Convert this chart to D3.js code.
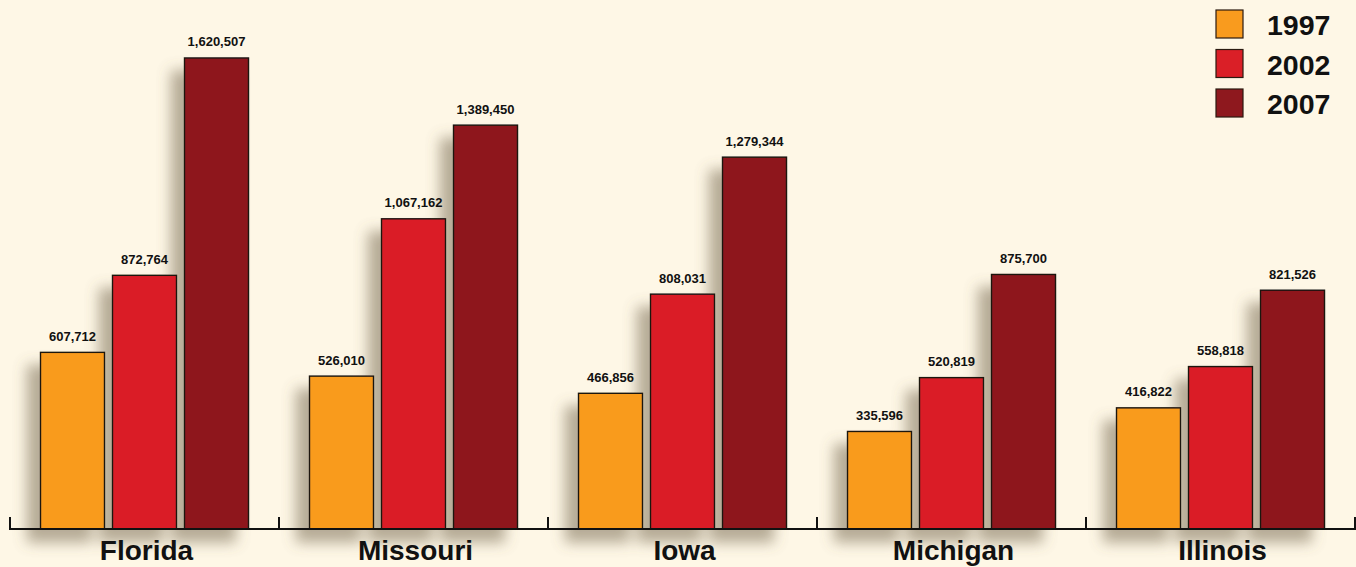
<!DOCTYPE html>
<html><head><meta charset="utf-8">
<script src="https://cdn.jsdelivr.net/npm/d3@7"></script>
<style>
html,body{margin:0;padding:0;background:#fef7e6;}
svg{display:block;font-family:"Liberation Sans",Arial,Helvetica,sans-serif;}
</style></head>
<body>
<svg id="chart" width="1356" height="567"></svg>
<script>
const categories = ["Florida","Missouri","Iowa","Michigan","Illinois"];
const seriesNames = ["1997","2002","2007"];
const values1997 = [607712, 526010, 466856, 335596, 416822];
const values2002 = [872764, 1067162, 808031, 520819, 558818];
const values2007 = [1620507, 1389450, 1279344, 875700, 821526];
const colors = ["#f99b1e","#da1f27","#8e181e"];

const seriesValues = [values1997, values2002, values2007];
const svg = d3.select("#chart");
const W = 1356, H = 567;
svg.append("rect").attr("width",W).attr("height",H).attr("fill","#fef7e6");

const defs = svg.append("defs");
const f = defs.append("filter").attr("id","shadow").attr("x","-30%").attr("y","-30%").attr("width","160%").attr("height","160%");
f.append("feGaussianBlur").attr("in","SourceAlpha").attr("stdDeviation",7).attr("result","b");
f.append("feOffset").attr("in","b").attr("dx",-13).attr("dy",13).attr("result","o");
f.append("feFlood").attr("flood-color","#6e6047").attr("flood-opacity",0.5);
f.append("feComposite").attr("in2","o").attr("operator","in").attr("result","s");
const m = f.append("feMerge");
m.append("feMergeNode").attr("in","s");
m.append("feMergeNode").attr("in","SourceGraphic");

const x0 = d3.scaleBand().domain(categories).range([10,1355]).padding(0);
const x1 = d3.scaleBand().domain(seriesNames).range([30.5,238.5]).paddingInner(8/72).paddingOuter(0);
const y = d3.scaleLinear().domain([0,1800000]).range([529,5.8]);

const data = [];
categories.forEach((c,i)=>seriesNames.forEach((s,j)=>data.push({c,s,j,v:seriesValues[j][i]})));

const bars = svg.append("g").attr("filter","url(#shadow)");
bars.selectAll("rect").data(data).join("rect")
  .attr("x",d=>x0(d.c)+x1(d.s))
  .attr("y",d=>y(d.v))
  .attr("width",x1.bandwidth())
  .attr("height",d=>y(0)-y(d.v))
  .attr("fill",d=>colors[d.j])
  .attr("stroke","#1a1210").attr("stroke-width",1.4);

svg.append("g").selectAll("text").data(data).join("text")
  .attr("x",d=>x0(d.c)+x1(d.s)+x1.bandwidth()/2)
  .attr("y",d=>y(d.v)-11.5)
  .attr("text-anchor","middle")
  .attr("font-size",13).attr("font-weight","bold").attr("fill","#111")
  .text(d=>d3.format(",")(d.v));

// axis
const ax = svg.append("g");
ax.append("line").attr("x1",9).attr("x2",1356).attr("y1",y(0)).attr("y2",y(0)).attr("stroke","#111").attr("stroke-width",2);
const tickPos = categories.map(c=>x0(c)).concat([x0.range()[1]]);
ax.selectAll("line.t").data(tickPos).join("line").attr("class","t")
  .attr("x1",d=>d).attr("x2",d=>d).attr("y1",y(0)).attr("y2",y(0)-12)
  .attr("stroke","#111").attr("stroke-width",2);
ax.selectAll("text").data(categories).join("text")
  .attr("x",d=>x0(d)+x0.bandwidth()/2+2).attr("y",560)
  .attr("text-anchor","middle").attr("font-size",28).attr("font-weight","bold").attr("fill","#111")
  .text(d=>d);

// legend
const lg = svg.append("g");
seriesNames.forEach((s,j)=>{
  const yy = 10 + j*39.5;
  lg.append("rect").attr("x",1216).attr("y",yy).attr("width",27).attr("height",28)
    .attr("fill",colors[j]).attr("stroke","#2a1a10").attr("stroke-width",1.2);
  lg.append("text").attr("x",1267).attr("y",yy+25).attr("font-size",28.5).attr("font-weight","bold").attr("fill","#111").text(s);
});
</script>
</body></html>
